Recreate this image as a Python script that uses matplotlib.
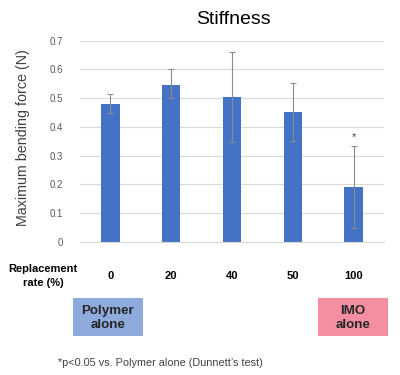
import matplotlib.pyplot as plt
from matplotlib.patches import Rectangle

plt.rcParams['font.family'] = ['Liberation Sans', 'DejaVu Sans']

rates = ['0', '20', '40', '50', '100']
means = [0.48, 0.547, 0.503, 0.452, 0.19]
upper = [0.515, 0.600, 0.662, 0.552, 0.334]
lower = [0.450, 0.500, 0.347, 0.350, 0.050]
yticks = [0, 0.1, 0.2, 0.3, 0.4, 0.5, 0.6, 0.7]

W, H = 400, 375
fig = plt.figure(figsize=(W / 100, H / 100), dpi=100)
ax = fig.add_axes([80 / W, 1 - 242 / H, 304 / W, (242 - 40.7) / H])

x = list(range(len(rates)))
err = [[m - lo for m, lo in zip(means, lower)], [up - m for m, up in zip(means, upper)]]
ax.bar(x, means, width=0.3, color='#4472C4', zorder=2)
ax.errorbar(x, means, yerr=err, fmt='none', ecolor='#8c8c8c', elinewidth=0.8,
            capsize=2, capthick=0.8, zorder=3)
ax.text(4, upper[4] + 0.012, '*', ha='center', va='bottom', fontsize=8, color='#404040')

ax.set_xlim(-0.5, 4.5)
ax.set_ylim(0, 0.7)
ax.set_yticks(yticks)
ax.set_yticklabels(['0' if t == 0 else f'{t:.1f}' for t in yticks], fontsize=7, color='#595959')
ax.yaxis.grid(True, color='#d9d9d9', linewidth=0.8, zorder=0)
ax.set_axisbelow(True)
ax.tick_params(axis='y', length=0, pad=12)
ax.set_xticks([])
for s in ['top', 'right', 'left']:
    ax.spines[s].set_visible(False)
ax.spines['bottom'].set_color('#d9d9d9')
ax.set_title('Stiffness', fontsize=14, pad=12, x=0.505)
ax.set_ylabel('Maximum bending force (N)', fontsize=10.3, color='#404040')
ax.yaxis.set_label_coords(-0.165, 0.52)

# category labels below the axis
for xi, r in zip(x, rates):
    ax.text(xi, -0.117, r, ha='center', va='center', fontsize=8, fontweight='bold',
            transform=ax.transData, clip_on=False)
fig.text(43 / W, 1 - 276 / H, 'Replacement\nrate (%)', ha='center', va='center',
         fontsize=8, fontweight='bold', linespacing=1.4)

# group boxes
fig.patches.append(Rectangle((73 / W, 1 - 336 / H), 70 / W, 38 / H, transform=fig.transFigure,
                             facecolor='#8FAADC', edgecolor='none'))
fig.patches.append(Rectangle((318 / W, 1 - 336 / H), 70 / W, 38 / H, transform=fig.transFigure,
                             facecolor='#F48FA1', edgecolor='none'))
fig.text(108 / W, 1 - 318 / H, 'Polymer\nalone', ha='center', va='center', fontsize=9.6,
         fontweight='bold', color='#262626', linespacing=1.3)
fig.text(353 / W, 1 - 318 / H, 'IMO\nalone', ha='center', va='center', fontsize=9.6,
         fontweight='bold', color='#262626', linespacing=1.3)

fig.text(58 / W, 1 - 363 / H, '*p<0.05 vs. Polymer alone (Dunnett\u2019s test)', ha='left',
         va='center', fontsize=7.8, color='#404040')

fig.savefig('out.png', dpi=100)
